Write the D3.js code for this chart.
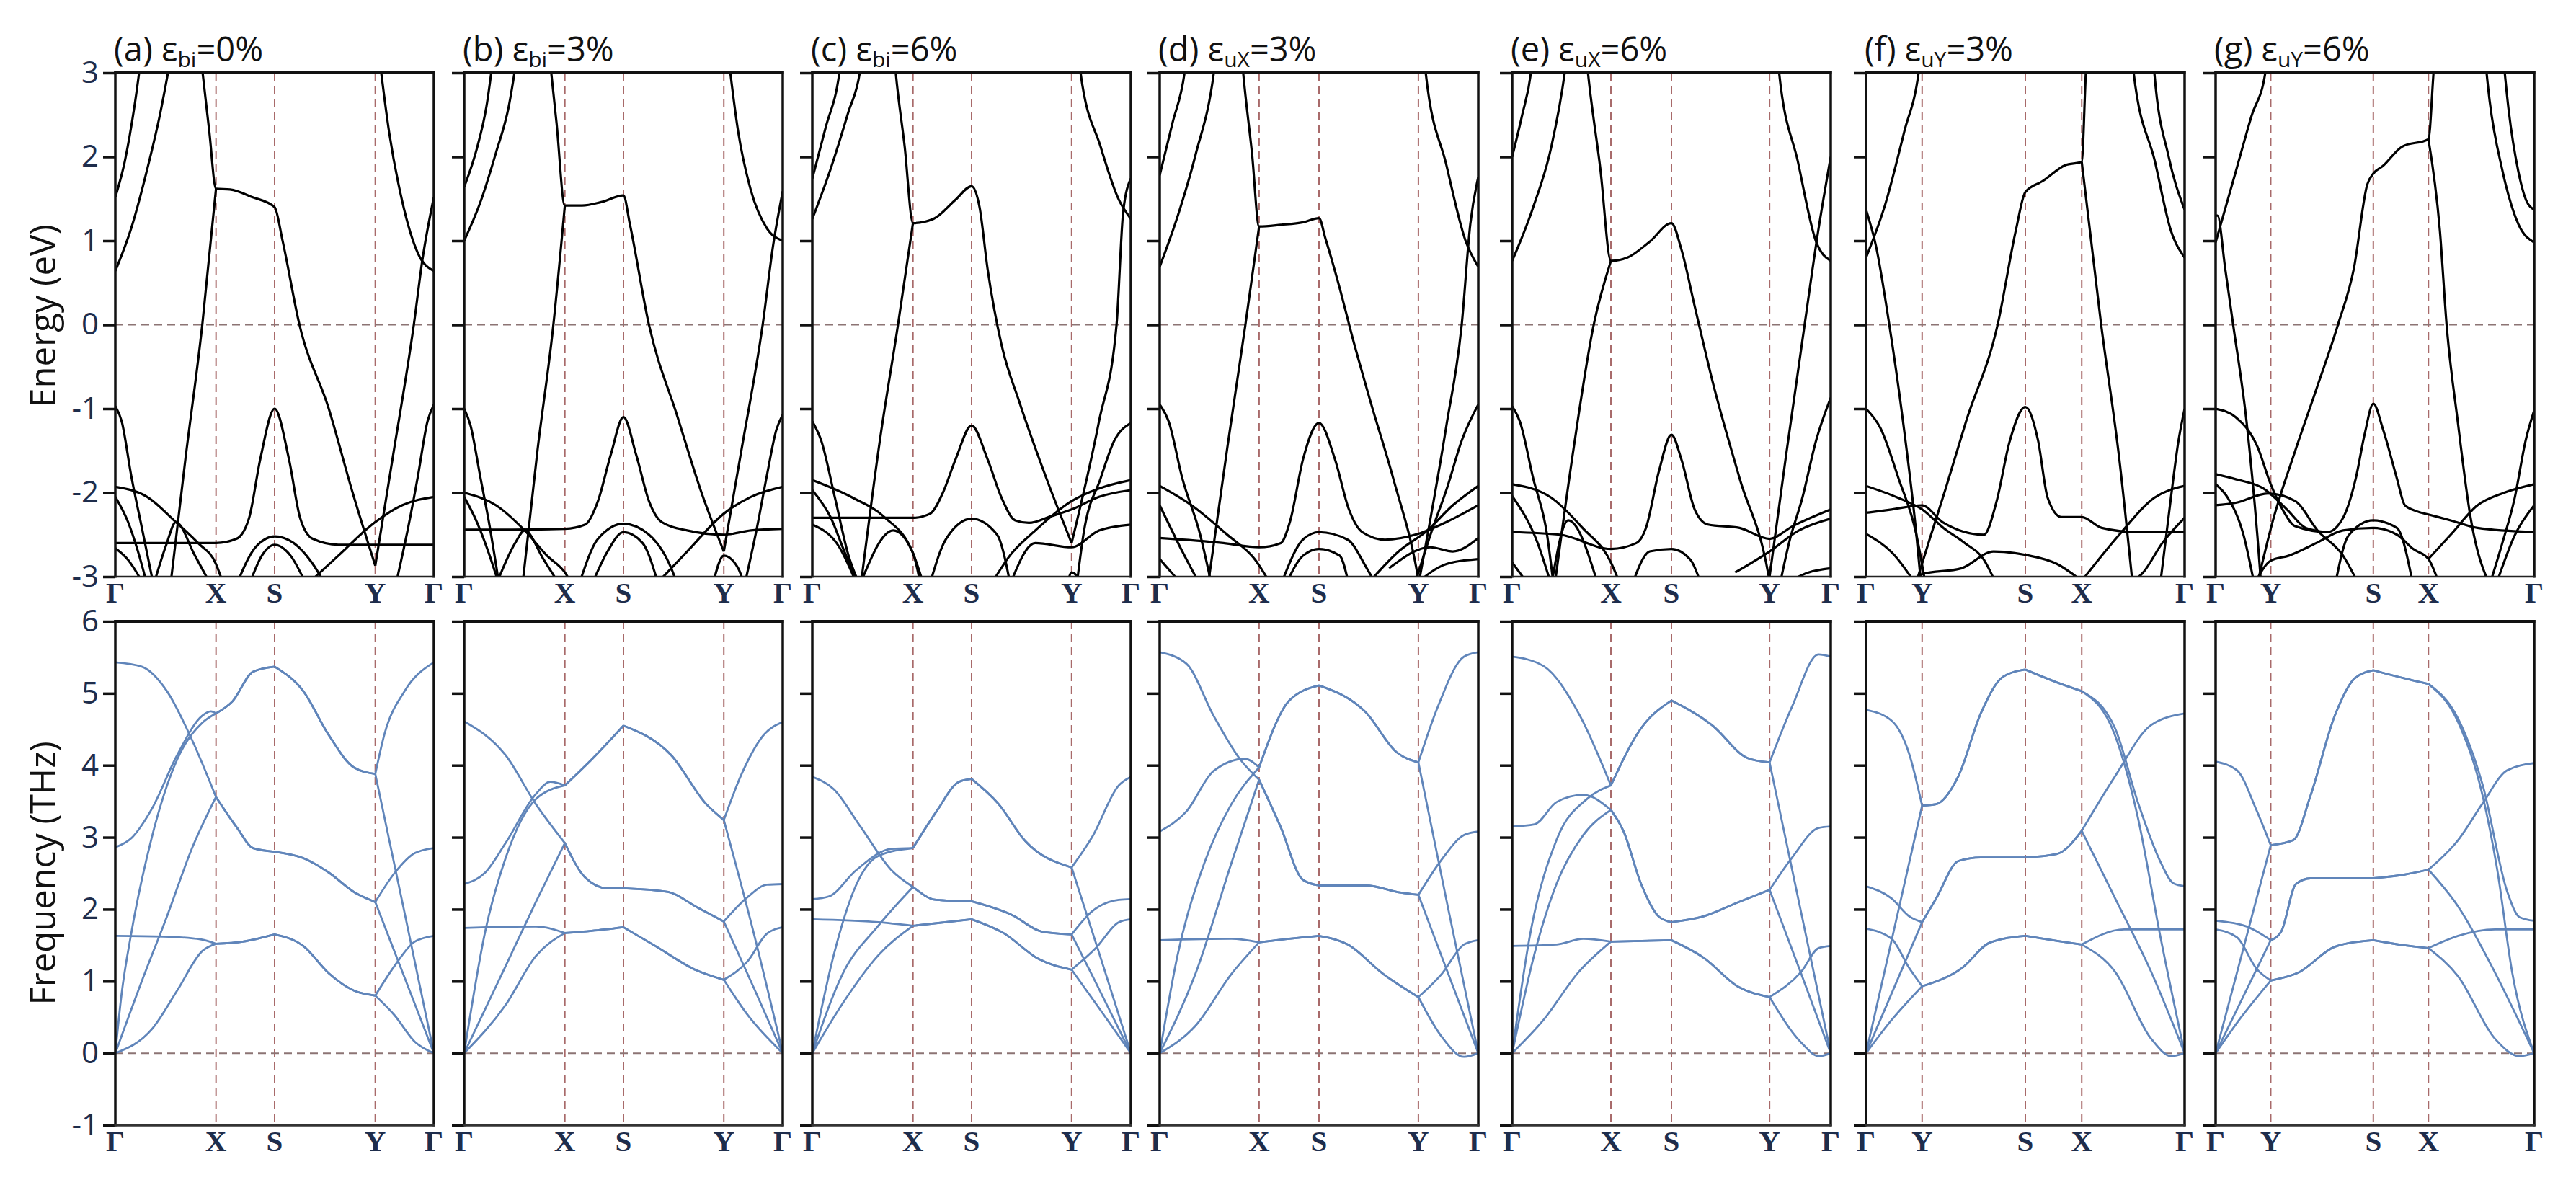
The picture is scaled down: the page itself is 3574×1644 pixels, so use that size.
<!DOCTYPE html>
<html>
<head>
<meta charset="utf-8">
<script src="https://cdn.jsdelivr.net/npm/d3@7"></script>
<style>
  body { margin: 0; background: #fff; }
</style>
</head>
<body>
<svg id="chart" width="3574" height="1644"></svg>
<script>
// ---- panel titles ----
const titles = [
  ["(a) ε", "bi", "=0%"],
  ["(b) ε", "bi", "=3%"],
  ["(c) ε", "bi", "=6%"],
  ["(d) ε", "uX", "=3%"],
  ["(e) ε", "uX", "=6%"],
  ["(f)  ε", "uY", "=3%"],
  ["(g) ε", "uY", "=6%"]
];

// ---- k-paths ----
const pathGXSYG = ["Γ", "X", "S", "Y", "Γ"];
const pathGYSXG = ["Γ", "Y", "S", "X", "Γ"];
const kTicks = [
  [0, 0.316, 0.5, 0.816, 1],
  [0, 0.316, 0.5, 0.815, 1],
  [0, 0.316, 0.5, 0.814, 1],
  [0, 0.312, 0.5, 0.812, 1],
  [0, 0.31, 0.5, 0.808, 1],
  [0, 0.176, 0.5, 0.677, 1],
  [0, 0.173, 0.495, 0.668, 1]
];

const energyTicks = [-3, -2, -1, 0, 1, 2, 3];
const freqTicks = [-1, 0, 1, 2, 3, 4, 5, 6];

// ---- electronic bands: [k, E(eV)] ----
const bandsA = [
  [[0,1.52],[0.03,1.95],[0.06,2.6],[0.085,3.3]],
  [[0,0.64],[0.05,1.15],[0.1,1.85],[0.14,2.5],[0.175,3.2]],
  [[0.265,3.3],[0.295,2.3],[0.316,1.62],[0.36,1.61],[0.43,1.52],[0.5,1.4],[0.525,1.0],[0.578,0],[0.67,-1.0],[0.745,-2.0],[0.816,-2.87]],
  [[0.17,-3.2],[0.22,-1.6],[0.273,0],[0.316,1.62]],
  [[0.816,-2.87],[0.87,-1.6],[0.937,0],[0.965,0.8],[1,1.52]],
  [[0.825,3.3],[0.86,2.28],[0.9,1.48],[0.95,0.85],[1,0.64]],
  [[0,-0.97],[0.02,-1.15],[0.05,-1.8],[0.085,-2.45],[0.12,-3.1]],
  [[0,-2.6],[0.15,-2.6],[0.316,-2.6],[0.38,-2.55],[0.42,-2.3],[0.455,-1.6],[0.5,-1.0],[0.545,-1.6],[0.58,-2.3],[0.62,-2.55],[0.7,-2.62],[0.816,-2.62],[1,-2.62]],
  [[0.6,-3.1],[0.7,-2.75],[0.816,-2.35],[0.9,-2.15],[1,-2.05]],
  [[0.88,-3.1],[0.92,-2.4],[0.95,-1.8],[0.98,-1.15],[1,-0.95]],
  [[0,-1.93],[0.1,-2.05],[0.19,-2.35],[0.26,-2.6],[0.316,-2.85],[0.34,-3.1]],
  [[0,-2.05],[0.04,-2.35],[0.075,-2.75],[0.1,-3.1]],
  [[0,-2.66],[0.04,-2.8],[0.09,-3.1]],
  [[0.12,-3.1],[0.16,-2.62],[0.19,-2.35],[0.25,-2.75],[0.3,-3.1]],
  [[0.38,-3.1],[0.44,-2.65],[0.5,-2.52],[0.56,-2.6],[0.62,-2.85],[0.66,-3.1]],
  [[0.42,-3.1],[0.46,-2.75],[0.5,-2.62],[0.55,-2.75],[0.6,-3.1]]
];

const bandsB = [
  [[0,1.64],[0.04,2.1],[0.07,2.6],[0.095,3.3]],
  [[0,1.0],[0.05,1.45],[0.1,2.05],[0.14,2.6],[0.17,3.3]],
  [[0.265,3.3],[0.29,2.4],[0.316,1.42],[0.37,1.42],[0.43,1.46],[0.5,1.54],[0.52,1.2],[0.58,0],[0.67,-1.1],[0.745,-2.0],[0.815,-2.7]],
  [[0.18,-3.2],[0.23,-1.5],[0.28,0],[0.316,1.42]],
  [[0.815,-2.7],[0.87,-1.5],[0.937,0],[0.97,0.95],[1,1.59]],
  [[0.826,3.3],[0.86,2.3],[0.9,1.6],[0.95,1.15],[1,1.0]],
  [[0,-1.0],[0.02,-1.2],[0.05,-1.8],[0.08,-2.4],[0.11,-3.1]],
  [[0,-2.44],[0.15,-2.44],[0.316,-2.43],[0.38,-2.38],[0.42,-2.1],[0.46,-1.55],[0.5,-1.1],[0.54,-1.55],[0.58,-2.1],[0.62,-2.35],[0.7,-2.45],[0.815,-2.5],[0.9,-2.45],[1,-2.43]],
  [[0.88,-3.1],[0.92,-2.4],[0.95,-1.8],[0.98,-1.25],[1,-1.07]],
  [[0,-2.0],[0.1,-2.15],[0.19,-2.45],[0.26,-2.75],[0.316,-2.95],[0.34,-3.1]],
  [[0,-2.05],[0.04,-2.35],[0.08,-2.75],[0.11,-3.1]],
  [[0.1,-3.1],[0.16,-2.6],[0.19,-2.45],[0.25,-2.8],[0.3,-3.1]],
  [[0.36,-3.1],[0.42,-2.55],[0.5,-2.37],[0.58,-2.5],[0.65,-2.9],[0.67,-3.1]],
  [[0.4,-3.1],[0.45,-2.7],[0.5,-2.47],[0.56,-2.6],[0.61,-3.1]],
  [[0.6,-3.1],[0.7,-2.7],[0.815,-2.25],[0.9,-2.05],[1,-1.93]],
  [[0.78,-3.1],[0.815,-2.75],[0.86,-2.9],[0.88,-3.1]]
];

const bandsC = [
  [[0,1.74],[0.042,2.35],[0.085,3.0],[0.095,3.3]],
  [[0,1.26],[0.057,1.85],[0.113,2.53],[0.149,3.0],[0.16,3.3]],
  [[0.255,3.3],[0.262,3.0],[0.29,2.12],[0.316,1.21],[0.38,1.26],[0.45,1.49],[0.5,1.65],[0.525,1.4],[0.55,0.67],[0.594,-0.24],[0.65,-0.92],[0.735,-1.83],[0.814,-2.6]],
  [[0.149,-3.2],[0.212,-1.38],[0.269,0],[0.316,1.21]],
  [[0.814,-2.6],[0.9,-1.15],[0.955,0],[0.976,1.35],[1,1.74]],
  [[0.835,3.3],[0.842,3.0],[0.905,2.12],[0.962,1.49],[1,1.26]],
  [[0,-1.15],[0.028,-1.38],[0.071,-2.06],[0.113,-2.74],[0.149,-3.1]],
  [[0,-2.3],[0.2,-2.3],[0.316,-2.3],[0.37,-2.25],[0.41,-2.0],[0.45,-1.6],[0.5,-1.2],[0.55,-1.6],[0.594,-2.06],[0.637,-2.33],[0.68,-2.36],[0.75,-2.28],[0.814,-2.2],[0.9,-2.05],[1,-1.97]],
  [[0.83,-3.1],[0.851,-2.5],[0.905,-1.83],[0.948,-1.38],[1,-1.17]],
  [[0,-1.85],[0.127,-2.06],[0.226,-2.29],[0.316,-2.72],[0.35,-3.1]],
  [[0,-1.97],[0.057,-2.29],[0.105,-2.74],[0.149,-3.1]],
  [[0,-2.38],[0.085,-2.65],[0.141,-3.1]],
  [[0.149,-3.1],[0.254,-2.45],[0.316,-2.72],[0.34,-3.1]],
  [[0.368,-3.1],[0.42,-2.55],[0.5,-2.31],[0.58,-2.5],[0.622,-3.1]],
  [[0.56,-3.1],[0.62,-2.75],[0.7,-2.45],[0.814,-2.1],[0.9,-1.95],[1,-1.85]],
  [[0.62,-3.1],[0.7,-2.6],[0.814,-2.65],[0.9,-2.45],[1,-2.38]],
  [[0.8,-3.1],[0.814,-2.95],[0.85,-3.1]]
];

const bandsD = [
  [[0,1.78],[0.04,2.4],[0.078,3.0],[0.088,3.3]],
  [[0,0.69],[0.057,1.3],[0.113,2.03],[0.17,3.0],[0.18,3.3]],
  [[0.255,3.3],[0.262,3.0],[0.29,2.03],[0.312,1.17],[0.38,1.19],[0.45,1.22],[0.5,1.27],[0.52,1.03],[0.564,0.45],[0.605,-0.15],[0.662,-0.92],[0.733,-1.83],[0.81,-2.99],[0.815,-3.1]],
  [[0.148,-3.2],[0.212,-1.47],[0.269,0],[0.312,1.17]],
  [[0.812,-3.1],[0.9,-1.2],[0.948,0],[0.975,1.2],[1,1.76]],
  [[0.83,3.3],[0.835,3.0],[0.9,1.9],[0.96,1.0],[1,0.69]],
  [[0,-0.95],[0.028,-1.15],[0.071,-1.83],[0.127,-2.5],[0.163,-3.1]],
  [[0,-2.54],[0.2,-2.6],[0.312,-2.65],[0.38,-2.6],[0.41,-2.33],[0.45,-1.6],[0.5,-1.17],[0.55,-1.6],[0.594,-2.2],[0.636,-2.47],[0.707,-2.56],[0.812,-2.49],[0.9,-2.35],[1,-2.15]],
  [[0.8,-3.1],[0.85,-2.5],[0.904,-1.92],[0.948,-1.38],[1,-0.95]],
  [[0,-1.92],[0.1,-2.15],[0.212,-2.5],[0.3,-2.8],[0.35,-3.1]],
  [[0,-2.15],[0.071,-2.7],[0.127,-3.1]],
  [[0,-2.79],[0.071,-3.1]],
  [[0.38,-3.1],[0.452,-2.55],[0.5,-2.47],[0.59,-2.56],[0.65,-2.9],[0.68,-3.1]],
  [[0.395,-3.1],[0.45,-2.75],[0.5,-2.67],[0.565,-2.75],[0.594,-3.1]],
  [[0.65,-3.1],[0.75,-2.7],[0.84,-2.45],[0.92,-2.15],[1,-1.92]],
  [[0.72,-2.9],[0.85,-2.65],[0.92,-2.7],[1,-2.54]],
  [[0.8,-3.1],[0.9,-2.85],[1,-2.79]]
];

const bandsE = [
  [[0,2.0],[0.031,2.49],[0.059,3.0],[0.068,3.3]],
  [[0,0.76],[0.066,1.4],[0.123,2.12],[0.165,3.0],[0.175,3.3]],
  [[0.23,3.3],[0.238,3.0],[0.277,1.85],[0.31,0.76],[0.362,0.8],[0.432,0.99],[0.5,1.21],[0.531,0.9],[0.573,0.22],[0.63,-0.69],[0.714,-1.83],[0.805,-2.99],[0.81,-3.1]],
  [[0.13,-3.2],[0.193,-1.47],[0.256,0],[0.31,0.76]],
  [[0.808,-3.0],[0.86,-1.55],[0.918,0],[0.96,1.1],[1,2.0]],
  [[0.83,3.3],[0.838,3.0],[0.897,1.94],[0.954,0.99],[1,0.76]],
  [[0,-0.97],[0.024,-1.15],[0.066,-1.83],[0.11,-2.51],[0.13,-3.1]],
  [[0,-2.47],[0.15,-2.5],[0.31,-2.67],[0.39,-2.6],[0.42,-2.42],[0.461,-1.74],[0.5,-1.31],[0.531,-1.6],[0.573,-2.2],[0.615,-2.38],[0.714,-2.42],[0.808,-2.55],[0.88,-2.4],[1,-2.2]],
  [[0.84,-3.1],[0.869,-2.6],[0.911,-2.06],[0.954,-1.38],[1,-0.87]],
  [[0,-1.9],[0.123,-2.06],[0.221,-2.42],[0.31,-2.83],[0.34,-3.1]],
  [[0,-2.04],[0.08,-2.6],[0.123,-3.1]],
  [[0,-2.83],[0.052,-3.1]],
  [[0.123,-3.1],[0.176,-2.33],[0.27,-3.1]],
  [[0.376,-3.1],[0.432,-2.7],[0.5,-2.67],[0.56,-2.8],[0.594,-3.1]],
  [[0.7,-2.95],[0.808,-2.7],[0.9,-2.45],[1,-2.31]],
  [[0.85,-3.1],[0.93,-2.95],[1,-2.9]]
];

const bandsF = [
  [[0,0.8],[0.06,1.43],[0.12,2.3],[0.165,3.0],[0.175,3.3]],
  [[0,1.37],[0.031,0.94],[0.073,0],[0.116,-1.15],[0.158,-2.5],[0.173,-3.1]],
  [[0.155,-3.1],[0.2,-2.55],[0.25,-1.95],[0.314,-1.15],[0.413,0],[0.47,1.12],[0.5,1.58],[0.554,1.71],[0.625,1.9],[0.677,1.94],[0.69,3.0],[0.695,3.3]],
  [[0.677,1.94],[0.738,0],[0.795,-1.6],[0.837,-3.1]],
  [[0.837,3.3],[0.84,3.0],[0.907,1.94],[0.957,1.12],[1,0.8]],
  [[0.9,3.3],[0.905,3.0],[0.95,2.0],[1,1.37]],
  [[0,-1.0],[0.045,-1.23],[0.102,-1.83],[0.158,-2.5],[0.187,-3.1]],
  [[0,-2.24],[0.08,-2.2],[0.176,-2.15],[0.24,-2.35],[0.37,-2.5],[0.41,-2.1],[0.45,-1.4],[0.5,-0.98],[0.54,-1.38],[0.57,-2.06],[0.613,-2.29],[0.677,-2.29],[0.74,-2.42],[0.85,-2.47],[1,-2.47]],
  [[0.923,-3.1],[0.957,-2.06],[0.98,-1.4],[1,-1.0]],
  [[0,-1.92],[0.1,-2.06],[0.176,-2.2],[0.243,-2.42],[0.31,-2.6],[0.37,-2.8],[0.41,-3.1]],
  [[0,-2.49],[0.088,-2.74],[0.158,-3.1]],
  [[0.15,-3.1],[0.176,-2.97],[0.3,-2.9],[0.4,-2.7],[0.5,-2.74],[0.6,-2.85],[0.677,-3.05]],
  [[0.677,-3.05],[0.795,-2.5],[0.905,-2.06],[1,-1.92]],
  [[0.82,-3.1],[0.87,-2.95],[0.93,-2.6],[1,-2.3]]
];

const bandsG = [
  [[0,0.98],[0.063,1.82],[0.113,2.49],[0.156,3.0],[0.165,3.3]],
  [[0,1.3],[0.006,1.3],[0.03,0.67],[0.055,0],[0.097,-1.15],[0.131,-2.51],[0.143,-3.1]],
  [[0.13,-3.1],[0.18,-2.33],[0.25,-1.5],[0.316,-0.77],[0.384,0],[0.434,0.67],[0.476,1.67],[0.495,1.8],[0.525,1.89],[0.585,2.12],[0.668,2.21],[0.684,3.0],[0.69,3.3]],
  [[0.668,2.21],[0.704,1.12],[0.725,0],[0.76,-1.15],[0.8,-2.29],[0.86,-3.1]],
  [[0.84,3.4],[0.86,2.67],[0.9,1.84],[0.95,1.2],[1,0.98]],
  [[0.9,3.3],[0.92,2.55],[0.95,1.83],[0.975,1.48],[1,1.37]],
  [[0,-1.0],[0.063,-1.1],[0.131,-1.45],[0.173,-1.9],[0.21,-2.2],[0.25,-2.4],[0.35,-2.47],[0.4,-2.3],[0.44,-1.83],[0.468,-1.3],[0.495,-0.94],[0.525,-1.24],[0.569,-1.83],[0.594,-2.15],[0.63,-2.22],[0.668,-2.26],[0.738,-2.33],[0.822,-2.42],[1,-2.47]],
  [[0.86,-3.1],[0.9,-2.6],[0.939,-2.06],[0.973,-1.38],[1,-1.02]],
  [[0,-1.78],[0.063,-1.84],[0.15,-1.95],[0.224,-2.2],[0.283,-2.42],[0.35,-2.47]],
  [[0,-1.9],[0.038,-2.06],[0.088,-2.51],[0.122,-3.1]],
  [[0,-2.15],[0.063,-2.12],[0.164,-2.01],[0.25,-2.1],[0.32,-2.45],[0.4,-2.75],[0.45,-3.1]],
  [[0.12,-3.1],[0.173,-2.81],[0.23,-2.75],[0.316,-2.6],[0.4,-2.45],[0.495,-2.42],[0.569,-2.5],[0.62,-2.67],[0.668,-2.79],[0.703,-3.1]],
  [[0.375,-3.1],[0.417,-2.51],[0.495,-2.33],[0.569,-2.42],[0.62,-3.1]],
  [[0.668,-2.79],[0.738,-2.5],[0.822,-2.15],[0.906,-2.0],[1,-1.9]],
  [[0.88,-3.1],[0.94,-2.5],[1,-2.15]]
];

// ---- phonon branches: [k, f(THz)] ----
const phononA = [
  [[0,0],[0.114,0.33],[0.194,0.87],[0.273,1.42],[0.316,1.52],[0.4,1.55],[0.5,1.65],[0.59,1.49],[0.67,1.11],[0.749,0.87],[0.816,0.8],[0.876,0.53],[0.94,0.16],[1,0]],
  [[0,1.63],[0.15,1.62],[0.27,1.58],[0.316,1.52],[0.4,1.55],[0.5,1.65],[0.59,1.49],[0.67,1.11],[0.749,0.87],[0.816,0.8],[0.876,1.21],[0.94,1.55],[1,1.63]],
  [[0,0],[0.083,1.0],[0.162,1.9],[0.241,2.85],[0.316,3.56],[0.384,3.12],[0.432,2.85],[0.5,2.8],[0.59,2.71],[0.67,2.51],[0.749,2.24],[0.816,2.1],[0.908,1.05],[1,0]],
  [[0,5.43],[0.083,5.37],[0.162,5.03],[0.241,4.35],[0.316,3.56],[0.384,3.12],[0.432,2.85],[0.5,2.8],[0.59,2.71],[0.67,2.51],[0.749,2.24],[0.816,2.1],[0.876,2.5],[0.94,2.78],[1,2.85]],
  [[0,0],[0.019,0.8],[0.051,1.69],[0.114,2.99],[0.194,4.08],[0.273,4.59],[0.316,4.72],[0.368,4.89],[0.432,5.3],[0.5,5.37],[0.59,5.03],[0.67,4.42],[0.749,3.97],[0.816,3.88],[0.908,1.95],[1,0]],
  [[0,2.86],[0.051,2.99],[0.114,3.39],[0.194,4.14],[0.273,4.69],[0.3,4.75],[0.316,4.72],[0.368,4.89],[0.432,5.3],[0.5,5.37],[0.59,5.03],[0.67,4.42],[0.749,3.97],[0.816,3.88],[0.844,4.42],[0.908,5.03],[1,5.43]]
];

const phononB = [
  [[0,0],[0.13,0.67],[0.225,1.35],[0.316,1.67],[0.4,1.7],[0.5,1.75],[0.6,1.49],[0.73,1.15],[0.815,1.02],[0.89,0.53],[1,0]],
  [[0,1.74],[0.225,1.76],[0.316,1.67],[0.4,1.7],[0.5,1.75],[0.6,1.49],[0.73,1.15],[0.815,1.02],[0.89,1.28],[0.95,1.66],[1,1.75]],
  [[0,0],[0.13,1.21],[0.225,2.1],[0.316,2.92],[0.38,2.44],[0.45,2.29],[0.5,2.29],[0.64,2.24],[0.73,2.03],[0.815,1.83],[0.91,0.9],[1,0]],
  [[0,4.61],[0.13,4.14],[0.225,3.46],[0.316,2.92],[0.38,2.44],[0.45,2.29],[0.5,2.29],[0.64,2.24],[0.73,2.03],[0.815,1.83],[0.89,2.17],[0.95,2.34],[1,2.35]],
  [[0,0],[0.066,1.69],[0.13,2.71],[0.225,3.53],[0.316,3.72],[0.4,4.08],[0.5,4.55],[0.65,4.14],[0.76,3.46],[0.815,3.24],[0.91,1.65],[1,0]],
  [[0,2.35],[0.066,2.51],[0.13,2.92],[0.225,3.6],[0.27,3.77],[0.316,3.72],[0.4,4.08],[0.5,4.55],[0.65,4.14],[0.76,3.46],[0.815,3.24],[0.87,3.87],[0.94,4.42],[1,4.6]]
];

const phononC = [
  [[0,0],[0.095,0.69],[0.207,1.36],[0.316,1.77],[0.5,1.86],[0.6,1.67],[0.71,1.31],[0.814,1.16],[0.906,0.59],[1,0]],
  [[0,1.86],[0.207,1.82],[0.316,1.77],[0.5,1.86],[0.6,1.67],[0.71,1.31],[0.814,1.16],[0.89,1.46],[0.962,1.82],[1,1.86]],
  [[0,0],[0.095,1.1],[0.207,1.77],[0.316,2.31],[0.389,2.13],[0.5,2.11],[0.627,1.92],[0.72,1.69],[0.814,1.65],[0.907,0.83],[1,0]],
  [[0,3.84],[0.067,3.67],[0.151,3.15],[0.249,2.54],[0.316,2.31],[0.389,2.13],[0.5,2.11],[0.627,1.92],[0.72,1.69],[0.814,1.65],[0.878,1.97],[0.962,2.13],[1,2.14]],
  [[0,0],[0.067,1.36],[0.137,2.33],[0.207,2.74],[0.316,2.85],[0.39,3.36],[0.46,3.77],[0.5,3.81],[0.585,3.46],[0.668,2.95],[0.814,2.58],[0.907,1.3],[1,0]],
  [[0,2.14],[0.053,2.18],[0.137,2.54],[0.249,2.84],[0.316,2.85],[0.39,3.36],[0.46,3.77],[0.5,3.81],[0.585,3.46],[0.668,2.95],[0.814,2.58],[0.878,3.0],[0.962,3.72],[1,3.84]]
];

const phononD = [
  [[0,0],[0.112,0.38],[0.225,1.1],[0.312,1.54],[0.407,1.59],[0.5,1.63],[0.59,1.51],[0.702,1.1],[0.812,0.78],[0.885,0.23],[0.955,-0.05],[1,0]],
  [[0,1.57],[0.225,1.59],[0.312,1.54],[0.407,1.59],[0.5,1.63],[0.59,1.51],[0.702,1.1],[0.812,0.78],[0.885,1.1],[0.955,1.51],[1,1.57]],
  [[0,0],[0.112,1.1],[0.225,2.64],[0.312,3.8],[0.379,3.15],[0.449,2.41],[0.5,2.33],[0.646,2.33],[0.758,2.23],[0.812,2.2],[0.906,1.1],[1,0]],
  [[0,5.57],[0.084,5.41],[0.169,4.69],[0.253,4.08],[0.312,3.8],[0.379,3.15],[0.449,2.41],[0.5,2.33],[0.646,2.33],[0.758,2.23],[0.812,2.2],[0.885,2.69],[0.955,3.03],[1,3.08]],
  [[0,0],[0.056,1.36],[0.14,2.64],[0.225,3.46],[0.312,3.97],[0.407,4.9],[0.5,5.11],[0.646,4.74],[0.744,4.18],[0.812,4.04],[0.906,2.0],[1,0]],
  [[0,3.08],[0.084,3.36],[0.169,3.92],[0.267,4.09],[0.312,3.97],[0.407,4.9],[0.5,5.11],[0.646,4.74],[0.744,4.18],[0.812,4.04],[0.871,4.79],[0.955,5.51],[1,5.57]]
];

const phononE = [
  [[0,0],[0.098,0.46],[0.209,1.13],[0.31,1.55],[0.5,1.57],[0.6,1.33],[0.711,0.92],[0.808,0.78],[0.907,0.15],[0.962,-0.04],[1,0]],
  [[0,1.49],[0.14,1.51],[0.223,1.59],[0.31,1.55],[0.5,1.57],[0.6,1.33],[0.711,0.92],[0.808,0.78],[0.907,1.13],[0.962,1.46],[1,1.49]],
  [[0,0],[0.07,1.38],[0.14,2.36],[0.223,3.03],[0.31,3.38],[0.35,3.08],[0.404,2.36],[0.46,1.9],[0.5,1.82],[0.6,1.9],[0.711,2.1],[0.808,2.27],[0.905,1.13],[1,0]],
  [[0,5.51],[0.098,5.38],[0.209,4.72],[0.31,3.72],[0.404,4.51],[0.5,4.9],[0.627,4.56],[0.739,4.1],[0.808,4.04],[0.879,4.82],[0.962,5.54],[1,5.51]],
  [[0,0],[0.056,1.64],[0.14,2.97],[0.237,3.54],[0.31,3.72],[0.404,4.51],[0.5,4.9],[0.627,4.56],[0.739,4.1],[0.808,4.04],[0.905,2.0],[1,0]],
  [[0,3.15],[0.07,3.18],[0.14,3.49],[0.223,3.59],[0.31,3.38],[0.35,3.08],[0.404,2.36],[0.46,1.9],[0.5,1.82],[0.6,1.9],[0.711,2.1],[0.808,2.27],[0.879,2.72],[0.962,3.13],[1,3.15]]
];

const phononF = [
  [[0,0],[0.08,0.46],[0.176,0.93],[0.3,1.18],[0.39,1.54],[0.5,1.63],[0.6,1.56],[0.677,1.51],[0.782,1.13],[0.895,0.2],[0.958,-0.04],[1,0]],
  [[0,1.73],[0.08,1.59],[0.136,1.18],[0.176,0.93],[0.3,1.18],[0.39,1.54],[0.5,1.63],[0.6,1.56],[0.677,1.51],[0.81,1.72],[1,1.72]],
  [[0,0],[0.176,1.82],[0.22,2.15],[0.29,2.67],[0.36,2.72],[0.5,2.72],[0.6,2.77],[0.677,3.09],[0.782,2.15],[0.895,1.13],[1,0]],
  [[0,2.32],[0.08,2.15],[0.136,1.9],[0.176,1.82],[0.22,2.15],[0.29,2.67],[0.36,2.72],[0.5,2.72],[0.6,2.77],[0.677,3.09],[0.782,3.85],[0.895,4.56],[1,4.72]],
  [[0,0],[0.176,3.44],[0.22,3.46],[0.29,3.85],[0.36,4.72],[0.43,5.23],[0.5,5.33],[0.6,5.15],[0.677,5.03],[0.782,4.41],[0.853,3.28],[0.923,1.64],[1,0]],
  [[0,4.77],[0.08,4.62],[0.136,4.15],[0.176,3.44],[0.22,3.46],[0.29,3.85],[0.36,4.72],[0.43,5.23],[0.5,5.33],[0.6,5.15],[0.677,5.03],[0.782,4.51],[0.853,3.49],[0.923,2.67],[0.965,2.36],[1,2.32]]
];

const phononG = [
  [[0,0],[0.082,0.51],[0.173,1.01],[0.26,1.12],[0.375,1.48],[0.495,1.57],[0.591,1.5],[0.668,1.46],[0.761,1.07],[0.877,0.2],[0.954,-0.04],[1,0]],
  [[0,1.72],[0.067,1.61],[0.129,1.17],[0.173,1.01],[0.26,1.12],[0.375,1.48],[0.495,1.57],[0.591,1.5],[0.668,1.46],[0.761,1.63],[0.877,1.72],[1,1.72]],
  [[0,0],[0.173,1.57],[0.206,1.69],[0.252,2.35],[0.298,2.43],[0.495,2.43],[0.591,2.48],[0.668,2.55],[0.761,2.04],[0.877,1.12],[1,0]],
  [[0,1.84],[0.098,1.76],[0.173,1.57],[0.206,1.69],[0.252,2.35],[0.298,2.43],[0.495,2.43],[0.591,2.48],[0.668,2.55],[0.761,2.96],[0.838,3.47],[0.915,3.93],[1,4.03]],
  [[0,0],[0.173,2.89],[0.244,2.96],[0.298,3.58],[0.375,4.7],[0.437,5.21],[0.495,5.32],[0.591,5.21],[0.668,5.13],[0.761,4.6],[0.838,3.58],[0.884,2.55],[0.931,1.12],[1,0]],
  [[0,4.05],[0.067,3.93],[0.129,3.37],[0.173,2.89],[0.244,2.96],[0.298,3.58],[0.375,4.7],[0.437,5.21],[0.495,5.32],[0.591,5.21],[0.668,5.13],[0.761,4.65],[0.838,3.73],[0.915,2.25],[0.954,1.89],[1,1.84]]
];

const allBands = [bandsA, bandsB, bandsC, bandsD, bandsE, bandsF, bandsG];
const allPhonons = [phononA, phononB, phononC, phononD, phononE, phononF, phononG];
const allPaths = [pathGXSYG, pathGXSYG, pathGXSYG, pathGXSYG, pathGXSYG, pathGYSXG, pathGYSXG];

// ---- layout ----
const panelLeft = [160, 644, 1127, 1609, 2098, 2589, 3074];
const panelW = 442;
const topBox = [101, 800];
const botBox = [862, 1561];

const labelColor = "#1e2d4c";
const dashColor = "#a86a6a";
const zeroColor = "#8c7474";
const phononColor = "#6085ba";

const svg = d3.select("#chart");
const defs = svg.append("defs");

const xK = d3.scaleLinear().domain([0, 1]).range([0, panelW]);
const yE = d3.scaleLinear().domain([-3, 3]).range([topBox[1], topBox[0]]);
const yF = d3.scaleLinear().domain([-1, 6]).range([botBox[1], botBox[0]]);

// split a branch at the high-symmetry points so kinks stay sharp
function splitAtTicks(pts, ticks) {
  const inner = ticks.slice(1, -1);
  const segs = [];
  let cur = [pts[0]];
  for (let j = 1; j < pts.length; j++) {
    cur.push(pts[j]);
    if (j < pts.length - 1 && inner.some(t => Math.abs(t - pts[j][0]) < 0.004)) {
      segs.push(cur);
      cur = [pts[j]];
    }
  }
  segs.push(cur);
  return segs;
}

function drawPanel(i, row) {
  const isTop = row === "top";
  const y = isTop ? yE : yF;
  const box = isTop ? topBox : botBox;
  const ticks = kTicks[i];
  const g = svg.append("g").attr("transform", `translate(${panelLeft[i]},0)`);
  const clipId = `clip-${row}-${i}`;
  defs.append("clipPath").attr("id", clipId)
    .append("rect")
    .attr("x", 0).attr("y", box[0])
    .attr("width", panelW).attr("height", box[1] - box[0]);

  // dashed guides
  g.selectAll(".vline")
    .data(ticks.slice(1, -1))
    .enter().append("line")
    .attr("x1", d => xK(d)).attr("x2", d => xK(d))
    .attr("y1", box[0]).attr("y2", box[1])
    .attr("stroke", dashColor).attr("stroke-width", 2)
    .attr("stroke-dasharray", "11,7");
  g.append("line")
    .attr("x1", 0).attr("x2", panelW)
    .attr("y1", y(0)).attr("y2", y(0))
    .attr("stroke", zeroColor).attr("stroke-width", 2)
    .attr("stroke-dasharray", "11,7");

  const line = d3.line()
    .x(d => xK(d[0]))
    .y(d => y(d[1]))
    .curve(d3.curveMonotoneX);

  const marks = g.append("g").attr("clip-path", `url(#${clipId})`);
  if (isTop) {
    marks.selectAll("path")
      .data(allBands[i])
      .enter().append("path")
      .attr("d", line)
      .attr("fill", "none")
      .attr("stroke", "#000")
      .attr("stroke-width", 3.2)
      .attr("stroke-linejoin", "round");
  } else {
    const segs = [];
    allPhonons[i].forEach(b => splitAtTicks(b, ticks).forEach(s => segs.push(s)));
    marks.selectAll("path")
      .data(segs)
      .enter().append("path")
      .attr("d", line)
      .attr("fill", "none")
      .attr("stroke", phononColor)
      .attr("stroke-width", 2.8)
      .attr("stroke-linejoin", "round");
  }

  // axis with outward ticks
  const axis = d3.axisLeft(y)
    .tickValues(isTop ? energyTicks : freqTicks)
    .tickSize(17)
    .tickPadding(6)
    .tickFormat(d => (i === 0 ? String(d) : ""));
  const ax = g.append("g").call(axis);
  ax.select(".domain").remove();
  ax.selectAll(".tick line").attr("stroke", "#111").attr("stroke-width", 3.5);
  ax.selectAll(".tick text")
    .attr("fill", labelColor)
    .style("font-family", "'Open Sans', sans-serif")
    .style("font-size", "42px");

  // frame
  g.append("line").attr("x1", 0).attr("x2", 0).attr("y1", box[0] - 2).attr("y2", box[1] + 1.5)
    .attr("stroke", "#111").attr("stroke-width", 3.5);
  g.append("line").attr("x1", panelW).attr("x2", panelW).attr("y1", box[0] - 2).attr("y2", box[1] + 1.5)
    .attr("stroke", "#111").attr("stroke-width", 3.5);
  g.append("line").attr("x1", -1.5).attr("x2", panelW + 1.5).attr("y1", box[0]).attr("y2", box[0])
    .attr("stroke", "#111").attr("stroke-width", 4);
  g.append("line").attr("x1", -1.5).attr("x2", panelW + 1.5).attr("y1", box[1]).attr("y2", box[1])
    .attr("stroke", isTop ? "#222" : "#333").attr("stroke-width", isTop ? 2.5 : 3.5);

  // k-point labels
  g.selectAll(".klabel")
    .data(ticks)
    .enter().append("text")
    .attr("x", d => xK(d))
    .attr("y", box[1] + 36)
    .attr("text-anchor", "middle")
    .attr("fill", labelColor)
    .style("font-family", "'Liberation Serif', 'Times New Roman', serif")
    .style("font-weight", "bold")
    .style("font-size", "41px")
    .text((d, j) => allPaths[i][j]);

  if (isTop) {
    const t = titles[i];
    const txt = g.append("text")
      .attr("x", -2).attr("y", 85)
      .attr("fill", "#111")
      .style("font-family", "'Open Sans', sans-serif")
      .style("font-size", "47px");
    txt.append("tspan").text(t[0]);
    txt.append("tspan").attr("dy", 8).style("font-size", "30px").text(t[1]);
    txt.append("tspan").attr("dy", -8).text(t[2]);
  }
}

for (let i = 0; i < 7; i++) {
  drawPanel(i, "top");
  drawPanel(i, "bot");
}

// axis titles
svg.append("text")
  .attr("transform", `translate(77,${yE(0) - 12}) rotate(-90)`)
  .attr("text-anchor", "middle")
  .attr("fill", "#111")
  .style("font-family", "'Open Sans', sans-serif")
  .style("font-size", "49px")
  .text("Energy (eV)");
svg.append("text")
  .attr("transform", `translate(77,${yF(2.5)}) rotate(-90)`)
  .attr("text-anchor", "middle")
  .attr("fill", "#111")
  .style("font-family", "'Open Sans', sans-serif")
  .style("font-size", "49px")
  .text("Frequency (THz)");
</script>
</body>
</html>
